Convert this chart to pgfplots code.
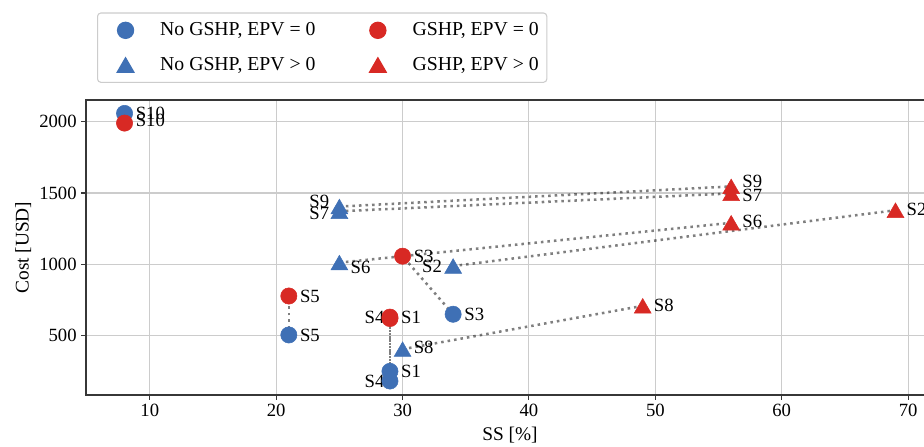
\documentclass[border=0pt]{standalone}
\usepackage{pgfplots}
\pgfplotsset{compat=1.18}
\usepackage{fontspec}
\setmainfont{Liberation Serif}
\definecolor{cblue}{RGB}{63,112,181}
\definecolor{cred}{RGB}{216,41,36}
\definecolor{gridc}{RGB}{204,204,204}
\definecolor{spine}{RGB}{55,55,55}
\begin{document}
\begin{tikzpicture}
\path[use as bounding box] (-64.5pt,-38.25pt) rectangle (628.5pt,296.25pt);
\begin{axis}[
  at={(0,0)}, anchor=south west,
  scale only axis, width=636pt, height=221.25pt,
  xmin=4.95, xmax=72.05, ymin=84, ymax=2152,
  clip=false,
  xtick={10,20,30,40,50,60,70}, ytick={500,1000,1500,2000},
  xtick pos=left, ytick pos=left,
  grid=major, major grid style={gridc, line width=0.8pt},
  axis line style={spine, line width=0.8pt},
  tick align=outside, major tick length=3.5pt, tick style={spine, line width=0.8pt},
  ticklabel style={font=\fontsize{14}{16}\selectfont},
  /pgf/number format/assume math mode=true,
  /pgf/number format/1000 sep={},
  xlabel={SS [\%]}, ylabel={Cost [USD]},
  label style={font=\fontsize{14.5}{17}\selectfont},
  xlabel style={at={(axis description cs:0.5,-0.1356)}, anchor=center},
  ylabel style={at={(axis description cs:-0.0739,0.5)}, anchor=center},
  legend columns=2,
  legend cell align=left,
  legend style={at={(0.013,1.2967)}, anchor=north west, draw=gridc, rounded corners=2.5pt,
    line width=0.8pt, inner xsep=6pt, inner ysep=0pt,
    font=\fontsize{14.8}{17}\selectfont, nodes={inner sep=0pt},
    /tikz/every even column/.append style={column sep=31.75pt}},
  legend image code/.code={\path[draw=none, fill=none] (-15pt,-13pt) rectangle (26pt,13pt);
    \draw[sharp corners,#1] plot coordinates {(0pt,0pt)};},
]
% blue circles: No GSHP, EPV = 0  (S10, S5, S3, S1, S4)
\addplot[only marks, mark=*, mark size=6.1pt, color=cblue, mark options={sharp corners}]
  coordinates {(8,2058) (21,505) (34,650) (29,250) (29,182)};
\addlegendentry{No GSHP, EPV = 0}
% red circles: GSHP, EPV = 0
\addplot[only marks, mark=*, mark size=6.1pt, color=cred, mark options={sharp corners}]
  coordinates {(8,1990) (21,778) (30,1057) (29,630) (29,620)};
\addlegendentry{GSHP, EPV = 0}
% blue triangles: No GSHP, EPV > 0 (S9, S7, S6, S2, S8)
\addplot[only marks, mark=triangle*, mark size=7.3pt, color=cblue, mark options={sharp corners, yshift=-1.8pt}]
  coordinates {(25,1405) (25,1372) (25,1012) (34,988) (30,405)};
\addlegendentry{No GSHP, EPV > 0}
% red triangles: GSHP, EPV > 0
\addplot[only marks, mark=triangle*, mark size=7.3pt, color=cred, mark options={sharp corners, yshift=-1.8pt}]
  coordinates {(56,1546) (56,1497) (56,1291) (69,1379) (49,709)};
\addlegendentry{GSHP, EPV > 0}
% connecting dotted lines
\pgfplotsset{cline/.style={forget plot, black, opacity=0.5, line width=1.9pt, dash pattern=on 1.9pt off 3pt, line cap=butt, no marks}}
\addplot[cline] coordinates {(8,2058) (8,1990)};
\addplot[cline] coordinates {(25,1405) (56,1546)};
\addplot[cline] coordinates {(25,1372) (56,1497)};
\addplot[cline] coordinates {(25,1012) (56,1291)};
\addplot[cline] coordinates {(34,988) (69,1379)};
\addplot[cline] coordinates {(34,650) (30,1057)};
\addplot[cline] coordinates {(21,505) (21,778)};
\addplot[cline] coordinates {(29,250) (29,630)};
\addplot[cline] coordinates {(29,182) (29,620)};
\addplot[cline] coordinates {(30,405) (49,709)};
% labels
\tikzset{lr/.style={anchor=west, inner sep=0pt, xshift=8.25pt, font=\fontsize{14}{16}\selectfont},
         ll/.style={anchor=east, inner sep=0pt, xshift=-8pt, font=\fontsize{14}{16}\selectfont}}
\node[lr] at (axis cs:8,2058) {S10};
\node[lr, yshift=2pt] at (axis cs:8,1990) {S10};
\node[ll, xshift=0.5pt, yshift=3.75pt] at (axis cs:25,1405) {S9};
\node[ll, xshift=0.5pt, yshift=-1.7pt] at (axis cs:25,1372) {S7};
\node[lr, yshift=-3.7pt] at (axis cs:25,1012) {S6};
\node[ll, xshift=-0.25pt] at (axis cs:34,988) {S2};
\node[lr] at (axis cs:30,1057) {S3};
\node[lr] at (axis cs:34,650) {S3};
\node[lr] at (axis cs:21,778) {S5};
\node[lr] at (axis cs:21,505) {S5};
\node[lr] at (axis cs:29,630) {S1};
\node[ll, xshift=4pt] at (axis cs:29,625) {S4};
\node[lr] at (axis cs:29,250) {S1};
\node[ll, xshift=4pt] at (axis cs:29,182) {S4};
\node[lr, yshift=1.5pt] at (axis cs:30,405) {S8};
\node[lr, yshift=3.6pt] at (axis cs:56,1546) {S9};
\node[lr, yshift=-1.8pt] at (axis cs:56,1497) {S7};
\node[lr, yshift=1.2pt] at (axis cs:56,1291) {S6};
\node[lr, yshift=1pt] at (axis cs:69,1379) {S2};
\node[lr, yshift=0.7pt] at (axis cs:49,709) {S8};
\end{axis}
\end{tikzpicture}
\end{document}
